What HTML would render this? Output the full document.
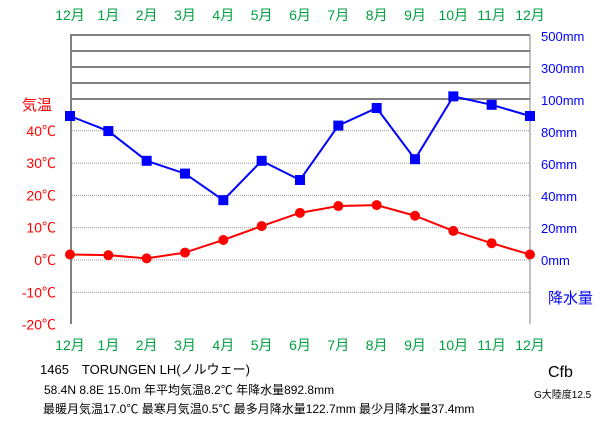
<!DOCTYPE html>
<html><head><meta charset="utf-8"><style>
body{margin:0;background:#fff;}
svg{display:block;font-family:"Liberation Sans","Noto Sans CJK JP",sans-serif;}
</style></head><body>
<svg id="c" width="611" height="425" viewBox="0 0 611 425">
<g id="grid"></g><g id="marks"></g><g id="labels"></g>
<text x="40" y="374" font-size="13">1465　TORUNGEN LH(ノルウェー)</text>
<text x="44" y="394" font-size="12">58.4N  8.8E  15.0m  年平均気温8.2℃  年降水量892.8mm</text>
<text x="43" y="413" font-size="12">最暖月気温17.0℃ 最寒月気温0.5℃ 最多月降水量122.7mm 最少月降水量37.4mm</text>
<text x="548" y="377" font-size="16">Cfb</text>
<text x="534" y="398" font-size="10">G大陸度12.5</text>
<text x="22" y="110" font-size="15" fill="#f00">気温</text>
<text x="548" y="303" font-size="15" fill="#00f">降水量</text>
</svg>
<script>
const months=["12月","1月","2月","3月","4月","5月","6月","7月","8月","9月","10月","11月","12月"];
const temps=[1.7,1.5,0.5,2.3,6.2,10.5,14.6,16.7,17.0,13.7,9.0,5.2,1.7];
const precip=[90,80.6,62,54,37.4,62,50,84,95,63,122.7,97,90];
const tempTicks=[40,30,20,10,0,-10,-20];
const precipTicks=[0,20,40,60,80,100,300,500];
const NS="http://www.w3.org/2000/svg";
const X0=70,X1=530;
const x=i=>X0+i*(X1-X0)/(months.length-1);
const yT=t=>260-t*3.23;
const yP=p=>p<=100?260-p*1.6:(p<=300?100-(p-100)/200*16*2:68-(p-300)/200*32);
function mk(g,tag,attrs,txt){const e=document.createElementNS(NS,tag);for(const k in attrs)e.setAttribute(k,attrs[k]);if(txt!=null)e.textContent=txt;document.getElementById(g).appendChild(e);return e;}
tempTicks.forEach(t=>{if(t!==-20){const l=mk('grid','line',{x1:X0,x2:X1,y1:yT(t),y2:yT(t),stroke:'#999','stroke-dasharray':'1,1'});

}
const tx=mk('labels','text',{x:56,y:yT(t)+5,'font-size':14,fill:'#f00','text-anchor':'end'},t+'℃');

});
[35,51,67,83,99].forEach(yy=>{const l=mk('grid','line',{x1:X0,x2:X1,y1:yy,y2:yy,stroke:'#808080','stroke-width':2});

});
const ax=mk('grid','line',{x1:71,x2:71,y1:35,y2:324,stroke:'#808080','stroke-width':2});


const ax2=mk('grid','line',{x1:530,x2:530,y1:35,y2:324,stroke:'#808080','stroke-width':1});


precipTicks.forEach(p=>{const tx=mk('labels','text',{x:541,y:yP(p)+5,'font-size':13,fill:'#00f'},p+'mm');

});
months.forEach((m,i)=>{[20,350].forEach(yy=>{const tx=mk('labels','text',{x:x(i),y:yy,'font-size':14,fill:'#00a040','text-anchor':'middle'},m);

});});
const pl=mk('marks','polyline',{points:precip.map((p,i)=>x(i)+','+yP(p)).join(' '),fill:'none',stroke:'#00f','stroke-width':2});


precip.forEach((p,i)=>{const r=mk('marks','rect',{x:x(i)-5,y:yP(p)-5,width:10,height:10,fill:'#00f'});

});
const tl=mk('marks','polyline',{points:temps.map((t,i)=>x(i)+','+yT(t)).join(' '),fill:'none',stroke:'#f00','stroke-width':2});


temps.forEach((t,i)=>{const c=mk('marks','circle',{cx:x(i),cy:yT(t),r:5,fill:'#f00'});

});
</script>
</body></html>
